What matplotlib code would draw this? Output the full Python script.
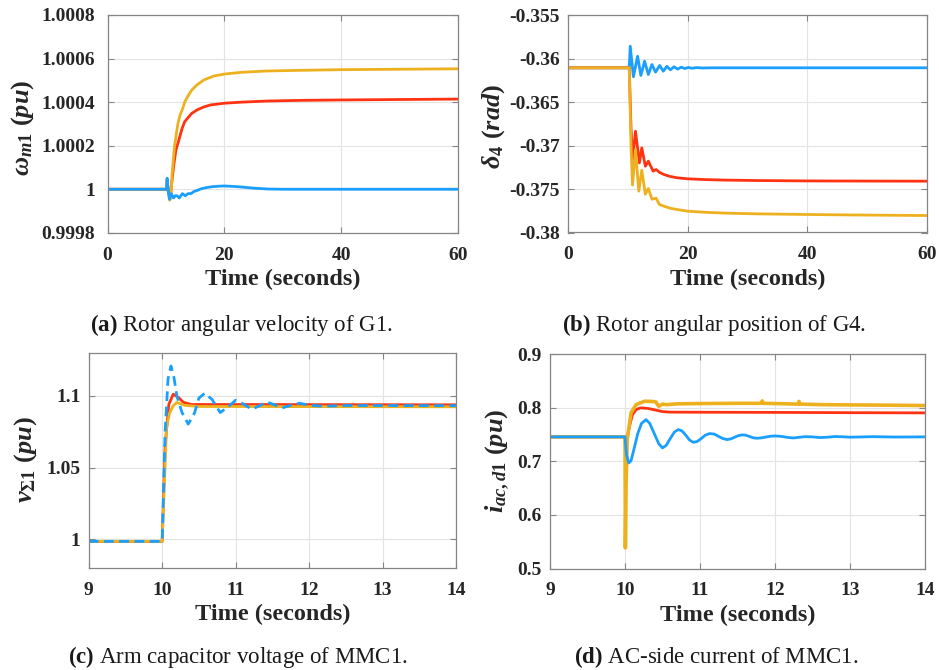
import matplotlib
matplotlib.use("Agg")
import matplotlib.pyplot as plt

plt.rcParams.update({
    "font.family": ["Liberation Serif", "DejaVu Serif"],
    "mathtext.fontset": "custom",
    "mathtext.rm": "Liberation Serif:bold",
    "mathtext.it": "Liberation Serif:italic:bold",
    "mathtext.bf": "Liberation Serif:bold",
})

BLUE = "#1A9FFF"
RED = "#FF3311"
GOLD = "#EDB120"

# (a) rotor angular velocity of G1 (pu)
ta_blue = [0, 10.1, 10.2, 10.4, 10.6, 10.9, 11.3, 11.6, 11.9, 12.3, 12.8, 13.3, 13.8, 14.3,
           14.8, 15.3, 16.0, 17.0, 18.0, 19.0, 20.0, 21.5, 23.0, 25.0, 27.5, 30.0, 60.0]
wa_blue = [1.0, 1.0, 1.00005, 0.99999, 0.999954, 0.99998, 0.99996, 0.99997, 0.99997, 0.99996,
           0.99998, 0.99997, 0.99998, 0.99998, 0.99999, 0.999994, 1.000002, 1.000008, 1.000012,
           1.000014, 1.000015, 1.000013, 1.00001, 1.000005, 1.000001, 1.0, 1.0]
ta_red = [0, 10.1, 10.2, 10.4, 10.7, 10.95, 11.3, 11.7, 12.2, 12.77, 13.2, 13.7, 14.4, 15.3,
          16.4, 17.6, 20.0, 23.0, 27.3, 33.0, 40.0, 50.0, 60.0]
wa_red = [1.0, 1.0, 1.00004, 0.99999, 0.99996, 1.00002, 1.000104, 1.00018, 1.000226, 1.00028,
          1.00031, 1.000326, 1.000348, 1.000364, 1.000377, 1.000387, 1.000395, 1.0004, 1.000405,
          1.000408, 1.00041, 1.000412, 1.000414]
ta_gold = [0, 10.1, 10.2, 10.4, 10.65, 10.85, 11.05, 11.45, 12.0, 12.4, 12.77, 13.2, 13.7, 14.4,
           15.3, 16.5, 18.2, 20.0, 23.0, 27.3, 33.0, 40.0, 50.0, 60.0]
wa_gold = [1.0, 1.0, 1.00005, 0.99999, 0.99995, 0.99996, 1.00007, 1.000196, 1.000295, 1.00034,
           1.000364, 1.0004, 1.000425, 1.000455, 1.000479, 1.000502, 1.00052, 1.000529, 1.000537,
           1.000543, 1.000546, 1.000549, 1.000551, 1.000553]

# (b) rotor angular position of G4 (rad)
tb_blue = [0, 10.2, 10.37, 10.9, 11.6, 12.15, 12.77, 13.4, 14.0, 14.6, 15.3, 15.9, 16.5, 17.1,
           17.7, 18.3, 18.9, 19.5, 20.1, 20.7, 21.5, 22.5, 24.0, 60.0]
db_blue = [-0.36107, -0.36107, -0.35859, -0.3621, -0.35974, -0.36195, -0.36031, -0.36184,
           -0.36069, -0.36157, -0.3608, -0.36146, -0.3609, -0.3613, -0.36095, -0.36122, -0.361,
           -0.36115, -0.36103, -0.36112, -0.36105, -0.36109, -0.36107, -0.36107]
tb_red = [0, 10.2, 10.5, 10.75, 11.25, 11.9, 12.3, 12.9, 13.4, 14.2, 14.7, 15.3, 16.0, 17.0,
          18.2, 20.0, 23.0, 26.5, 32.0, 40.0, 50.0, 60.0]
db_red = [-0.36107, -0.36107, -0.368, -0.3716, -0.36836, -0.372, -0.37027, -0.37238, -0.3718,
          -0.37295, -0.37276, -0.3731, -0.37333, -0.37355, -0.37371, -0.37383, -0.37392,
          -0.37398, -0.37403, -0.37407, -0.37409, -0.3741]
tb_gold = [0, 10.2, 10.5, 10.75, 11.25, 11.8, 12.3, 12.9, 13.4, 14.0, 14.7, 15.25, 16.0, 17.0,
           18.2, 20.0, 23.0, 26.5, 32.0, 40.0, 50.0, 60.0]
db_gold = [-0.36107, -0.36107, -0.37, -0.37454, -0.37046, -0.37525, -0.37283, -0.3756,
           -0.37494, -0.37617, -0.37606, -0.37678, -0.37697, -0.3772, -0.37736, -0.37755,
           -0.37768, -0.37778, -0.37786, -0.37793, -0.378, -0.37805]

# (c) arm capacitor voltage of MMC1 (pu)
tc_blue = [9, 10.0, 10.04, 10.08, 10.12, 10.16, 10.2, 10.27, 10.355, 10.44, 10.5, 10.58, 10.68,
           10.79, 10.9, 11.0, 11.1, 11.22, 11.32, 11.42, 11.52, 11.63, 11.75, 11.87, 12.0,
           12.2, 12.5, 14.0]
vc_blue = [0.9984, 0.9984, 1.0744, 1.112, 1.1209, 1.113, 1.1, 1.0884, 1.0803, 1.088, 1.0985,
           1.1019, 1.0975, 1.0884, 1.0925, 1.097, 1.0945, 1.0907, 1.093, 1.0958, 1.094, 1.0915,
           1.0935, 1.0949, 1.0935, 1.0928, 1.0933, 1.0932]
tc_red = [9, 10.0, 10.04, 10.09, 10.15, 10.22, 10.29, 10.4, 10.6, 11.0, 14.0]
vc_red = [0.9984, 0.9984, 1.065, 1.094, 1.1012, 1.099, 1.0955, 1.094, 1.094, 1.094, 1.0938]
tc_gold = [9, 10.0, 10.06, 10.1, 10.15, 10.2, 10.3, 10.5, 11.0, 14.0]
vc_gold = [0.9984, 0.9984, 1.078, 1.088, 1.093, 1.0955, 1.0935, 1.0926, 1.0926, 1.0924]

# (d) AC-side current of MMC1 (pu)
td_blue = [9, 10.0, 10.02, 10.05, 10.08, 10.12, 10.17, 10.22, 10.28, 10.33, 10.39, 10.45, 10.5,
           10.55, 10.6, 10.66, 10.71, 10.76, 10.81, 10.86, 10.91, 10.96, 11.02, 11.07, 11.13,
           11.19, 11.25, 11.3, 11.36, 11.41, 11.46, 11.51, 11.56, 11.61, 11.66, 11.71, 11.76,
           11.82, 11.88, 11.94, 12.0, 12.06, 12.12, 12.18, 12.25, 12.32, 12.4, 12.5, 12.6, 12.7,
           12.8, 12.9, 13.0, 13.3, 13.6, 14.0]
id_blue = [0.7458, 0.7458, 0.712, 0.6972, 0.701, 0.723, 0.752, 0.771, 0.778, 0.771, 0.752,
           0.733, 0.7252, 0.73, 0.742, 0.755, 0.7594, 0.757, 0.749, 0.74, 0.7357, 0.737, 0.743,
           0.749, 0.752, 0.751, 0.7465, 0.743, 0.7407, 0.742, 0.745, 0.748, 0.7495, 0.749,
           0.7465, 0.744, 0.7432, 0.744, 0.7455, 0.747, 0.7475, 0.747, 0.746, 0.7445, 0.7438,
           0.745, 0.7462, 0.7458, 0.7445, 0.7452, 0.7465, 0.746, 0.7452, 0.7462, 0.7455, 0.7458]
td_red = [9, 10.0, 10.01, 10.03, 10.06, 10.1, 10.15, 10.21, 10.3, 10.37, 10.5, 10.6, 11.0,
          12.0, 13.0, 14.0]
id_red = [0.7458, 0.7458, 0.722, 0.745, 0.7656, 0.7875, 0.797, 0.80, 0.799, 0.797, 0.793,
          0.792, 0.7918, 0.7915, 0.791, 0.7906]
td_gold = [9, 10.0, 10.005, 10.015, 10.03, 10.08, 10.15, 10.26, 10.35, 10.41, 10.45, 10.5,
           10.55, 10.7, 11.0, 11.5, 11.82, 11.83, 11.84, 12.0, 12.31, 12.32, 12.33, 12.6, 13.0,
           13.5, 14.0]
id_gold = [0.7458, 0.7458, 0.5385, 0.66, 0.741, 0.7906, 0.8062, 0.8123, 0.812, 0.8112, 0.803,
           0.807, 0.806, 0.8075, 0.808, 0.8085, 0.8085, 0.813, 0.8085, 0.808, 0.807, 0.812, 0.807,
           0.806, 0.8055, 0.805, 0.8043]

W, H = 939, 670
fig = plt.figure(figsize=(W / 100, H / 100), dpi=100)


def px_axes(x0, x1, y0, y1):
    return fig.add_axes([x0 / W, 1 - y1 / H, (x1 - x0) / W, (y1 - y0) / H])


def style(ax, xlim, xticks, ylim, yticks, yticklabels, ypad=6):
    ax.set_xlim(*xlim)
    ax.set_ylim(*ylim)
    ax.set_xticks(xticks)
    ax.set_yticks(yticks)
    ax.set_yticklabels(yticklabels)
    ax.grid(True, color="#e3e3e3", linewidth=0.8)
    ax.set_axisbelow(True)
    for s in ax.spines.values():
        s.set_color("#858585")
        s.set_linewidth(0.9)
    ax.tick_params(direction="in", length=4, width=0.8, color="#858585",
                   top=True, right=True, labelsize=14, labelcolor="#262626")
    ax.tick_params(axis="x", pad=10)
    ax.tick_params(axis="y", pad=ypad)
    for lab in ax.get_xticklabels() + ax.get_yticklabels():
        lab.set_fontweight("bold")
    ax.set_xlabel("Time (seconds)", fontsize=17.5, fontweight="bold", color="#262626",
                  labelpad=4)


LW = 2.0
YL = dict(rotation=90, ha="center", va="center", fontsize=19, color="#262626")

# (a)
ax = px_axes(107.5, 458.3, 15, 232.8)
ax.plot(ta_red, wa_red, color=RED, lw=LW)
ax.plot(ta_gold, wa_gold, color=GOLD, lw=LW)
ax.plot(ta_blue, wa_blue, color=BLUE, lw=LW)
style(ax, (0, 60), [0, 20, 40, 60], (0.9998, 1.0008),
      [0.9998, 1.0, 1.0002, 1.0004, 1.0006, 1.0008],
      ["0.9998", "1", "1.0002", "1.0004", "1.0006", "1.0008"], ypad=9)
fig.text(23 / W, 1 - 128 / H, r"$\omega_{m\mathit{1}}\ (pu)$", **YL)

# (b)
ax = px_axes(568.3, 926.7, 15, 232.5)
ax.plot(tb_blue, db_blue, color=BLUE, lw=LW)
ax.plot(tb_red, db_red, color=RED, lw=LW)
ax.plot(tb_gold, db_gold, color=GOLD, lw=LW)
style(ax, (0, 60), [0, 20, 40, 60], (-0.38, -0.355),
      [-0.38, -0.375, -0.37, -0.365, -0.36, -0.355],
      ["-0.38", "-0.375", "-0.37", "-0.365", "-0.36", "-0.355"])
fig.text(494 / W, 1 - 126 / H, r"$\delta_{\mathit{4}}\ (rad)$", **YL)

# (c)
ax = px_axes(88.7, 456, 353, 567.7)
ax.plot(tc_red, vc_red, color=RED, lw=LW)
ax.plot(tc_gold, vc_gold, color=GOLD, lw=LW)
ax.plot(tc_blue, vc_blue, color=BLUE, lw=LW, dashes=(3.5, 2))
style(ax, (9, 14), [9, 10, 11, 12, 13, 14], (0.98, 1.13),
      [1.0, 1.05, 1.1], ["1", "1.05", "1.1"])
fig.text(26 / W, 1 - 460 / H, r"$v_{\mathit{\Sigma 1}}\ (pu)$", **YL)

# (d)
ax = px_axes(550, 925, 354.3, 568.5)
ax.plot(td_red, id_red, color=RED, lw=LW)
ax.plot(td_gold, id_gold, color=GOLD, lw=2.6)
ax.plot(td_blue, id_blue, color=BLUE, lw=LW)
style(ax, (9, 14), [9, 10, 11, 12, 13, 14], (0.5, 0.9),
      [0.5, 0.6, 0.7, 0.8, 0.9], ["0.5", "0.6", "0.7", "0.8", "0.9"])
fig.text(498 / W, 1 - 461 / H, r"$i_{ac,d\mathit{1}}\ (pu)$", **YL)

# Sub-figure captions
cap_kw = dict(ha="center", va="center", fontsize=16.5, color="#1a1a1a")
fig.text(241 / W, 1 - 325 / H, r"$\mathbf{(a)}$ Rotor angular velocity of G1.", **cap_kw)
fig.text(714 / W, 1 - 325 / H, r"$\mathbf{(b)}$ Rotor angular position of G4.", **cap_kw)
fig.text(238 / W, 1 - 657 / H, r"$\mathbf{(c)}$ Arm capacitor voltage of MMC1.", **cap_kw)
fig.text(716 / W, 1 - 657 / H, r"$\mathbf{(d)}$ AC-side current of MMC1.", **cap_kw)

fig.savefig("out.png", dpi=100, facecolor="white")
